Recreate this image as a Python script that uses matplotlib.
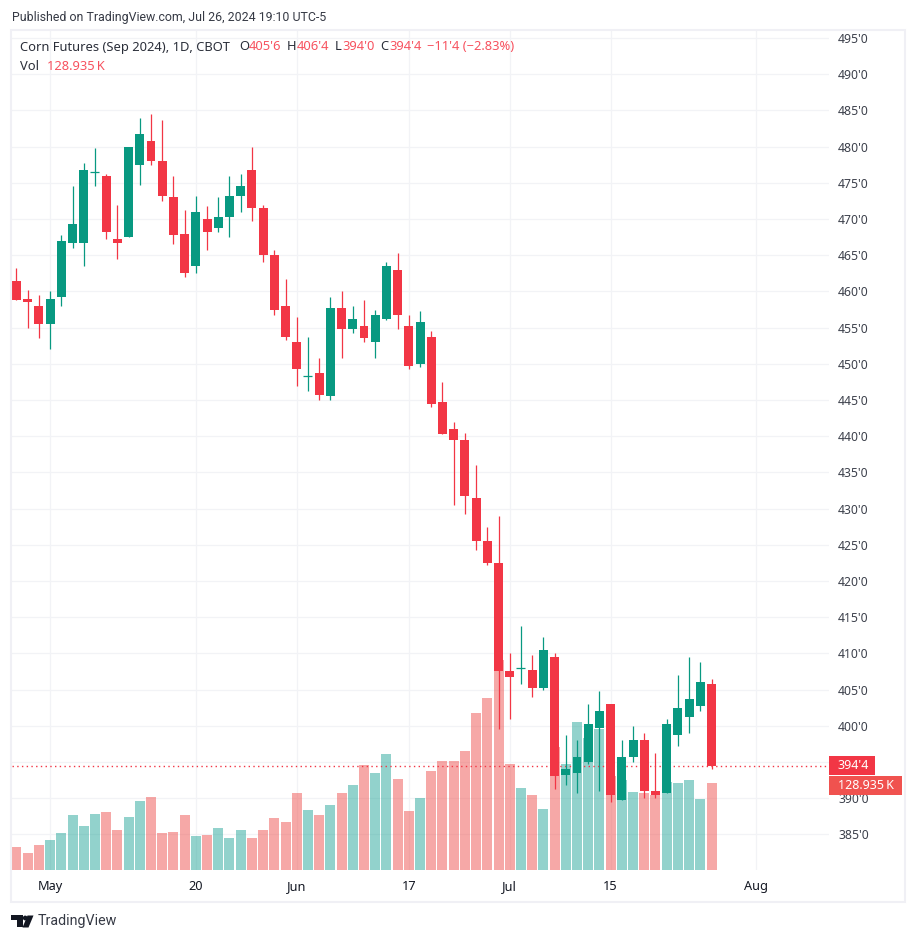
import matplotlib
matplotlib.use("Agg")
import numpy as np
import matplotlib.pyplot as plt
from matplotlib.patches import Rectangle, Polygon, Circle
from matplotlib.transforms import Affine2D

# daily bars, Apr 26 - Jul 26 2024
opens = [461.5, 459, 458, 455.5, 459.25, 466.75, 466.75, 476.5, 476, 467.25,
         467.5, 477.5, 480.75, 478, 473, 468, 463.5, 470, 468.75, 470.25,
         473.25, 476.75, 471.5, 465, 458, 453, 448.25, 448.75, 445.5, 457.75,
         454.75, 455.25, 453, 456.25, 463, 455.25, 450, 453.75, 444.75, 441,
         439.5, 431.5, 425.5, 422.5, 407.5, 408, 407.75, 405.25, 409.5, 393.25,
         393.5, 395, 399.75, 403, 389.75, 395.75, 398, 391, 390.75, 398.75,
         401.25, 402.75, 405.75]
highs = [463.25, 460.25, 459.5, 460, 467.75, 474.5, 477.75, 479.75, 476.25, 472,
         480, 484, 484.5, 483.75, 476, 471.25, 473.25, 471.75, 473, 476,
         476.25, 480, 472, 465.75, 461.75, 456.5, 453.75, 450.75, 459.25, 460,
         458, 458.75, 457.5, 464, 465.25, 456.75, 457.25, 454.5, 447.5, 442,
         440.5, 436, 427.5, 429, 410, 413.75, 409.75, 412.25, 410, 398.75,
         398, 403, 404.75, 403, 398, 400, 399, 396.25, 401, 407,
         409.5, 408.75, 406.5]
lows = [458.75, 455, 453.5, 452, 458, 466, 463.5, 474.5, 467.25, 464.5,
        467.5, 474.75, 477.5, 472.5, 466.5, 462, 462.5, 465.75, 468.25, 467.5,
        471, 469.75, 464, 456.75, 453.25, 447, 446.25, 445, 445, 450.75,
        454.25, 453, 450.75, 456, 454.75, 449.25, 449.5, 444, 440.25, 430.5,
        429.25, 424.25, 422.25, 399.5, 401, 405.75, 404, 405, 391.25, 391.75,
        390.75, 394.75, 391, 389.5, 389.75, 395, 390, 390, 390.75, 397.25,
        399, 402, 394]
closes = [458.75, 458.5, 455.5, 459, 467, 469.25, 476.75, 476.5, 468.25, 466.75,
          480, 481.75, 478, 473.25, 467.75, 462.5, 471, 468.25, 470.25, 473.25,
          474.5, 471.5, 465, 457.5, 453.75, 449.25, 448.25, 445.75, 457.75, 454.75,
          456.25, 453.5, 456.75, 463.5, 456.75, 449.75, 455.75, 444.5, 440.25, 439.5,
          431.75, 425.5, 422.5, 407.5, 406.75, 408, 405.25, 410.5, 393, 394,
          395.75, 400.25, 402, 390.5, 395.75, 398, 391, 390.5, 400.25, 402.5,
          403.75, 406, 394.5]
# thousands of contracts
volumes = [34.1, 25.2, 37.1, 44.5, 54.8, 81.5, 65.2, 83.0, 86.0, 59.3,
           78.5, 102.3, 108.2, 54.8, 56.3, 81.5, 50.4, 51.9, 62.2, 47.4,
           59.3, 47.4, 59.3, 77.1, 71.1, 114.1, 88.9, 81.5, 96.3, 114.1,
           126.0, 155.6, 143.8, 171.9, 134.9, 87.4, 106.7, 146.7, 161.5, 161.5,
           176.4, 232.7, 254.9, 311.2, 157.1, 121.5, 111.2, 90.4, 182.3, 157.1,
           219.3, 195.6, 209.0, 139.3, 133.4, 115.6, 114.1, 111.2, 130.4, 128.9,
           133.4, 105.2, 128.935]

time_ticks = [3, 16, 25, 35, 44, 53, 66]
time_labels = ["May", "20", "Jun", "17", "Jul", "15", "Aug"]
month_labels = ["May", "Jun", "Jul", "Aug"]
price_ticks = list(range(385, 500, 5))
# 395'0 sits behind the last price badge in the picture
price_labels = ["" if p == 395 else "%d'0" % p for p in price_ticks]

UP = "#089981"
DOWN = "#F23645"
VOL_UP = "#26A69A"
VOL_DOWN = "#EF5350"
TEXT_RED = "#F7525F"
GRID = "#F2F3F6"
FRAME = "#F0F0F5"
INK = "#2A2E39"
W, H = 916, 941

plt.rcParams["font.family"] = ["Noto Sans", "DejaVu Sans"]

fig = plt.figure(figsize=(W / 100, H / 100), dpi=100, facecolor="white")
px = Affine2D().scale(1 / W, -1 / H).translate(0, 1) + fig.transFigure

ax = fig.add_axes([12 / W, (H - 870) / H, 817 / W, 839 / H])
ax.set_xlim(-0.401, 72.48)
ax.set_ylim(380.07, 495.98)
for s in ax.spines.values():
    s.set_visible(False)

x = np.arange(len(opens))
opens = np.array(opens)
closes = np.array(closes)
up = closes >= opens
colors = [UP if u else DOWN for u in up]
vol_colors = [VOL_UP if u else VOL_DOWN for u in up]

# volume pane sits on the bottom of the price pane, 1243 K is the full height
ax.bar(x, np.array(volumes) / 1243.4, width=0.89, color=vol_colors, alpha=0.5,
       transform=ax.get_xaxis_transform(), zorder=2)

ax.vlines(x, lows, highs, colors=colors, linewidth=0.9, zorder=4)
ax.bar(x, np.abs(closes - opens), bottom=np.minimum(opens, closes), width=0.8,
       color=colors, zorder=5)
dojis = opens == closes
ax.hlines(opens[dojis], x[dojis] - 0.4, x[dojis] + 0.4, colors=UP, linewidth=0.9, zorder=5)

ax.axhline(closes[-1], color=DOWN, linewidth=1.0, linestyle=(0, (1, 2.4)), zorder=3)

ax.set_axisbelow(True)
ax.grid(True, color=GRID, linewidth=0.9)
ax.yaxis.tick_right()
ax.set_yticks(price_ticks)
ax.set_yticklabels(price_labels, fontsize=8.8, color="#3D414C")
ax.set_xticks(time_ticks)
ax.set_xticklabels(time_labels, fontsize=9.2, color="#131722")
for t in ax.get_xticklabels():
    if t.get_text() in month_labels:
        t.set_fontweight("semibold")
ax.tick_params(axis="both", length=0)
ax.tick_params(axis="y", pad=6.5)
ax.tick_params(axis="x", pad=7.5)


def label(xp, yp, s, color=INK, size=9.3, **kw):
    fig.text(xp, yp, s, transform=px, color=color, fontsize=size, va="center", ha="left", zorder=10, **kw)


fig.add_artist(Rectangle((11, 30), 894, 872, transform=px, fill=False, edgecolor=FRAME, linewidth=1.5))

label(12, 17, "Published on TradingView.com, Jul 26, 2024 19:10 UTC-5", color="#363A45", size=8.95, family="Roboto")
label(20, 47, "Corn Futures (Sep 2024), 1D, CBOT")
label(239, 47, "O")
label(249, 47, "405'6", color=TEXT_RED)
label(287, 47, "H")
label(297, 47, "406'4", color=TEXT_RED)
label(335, 47, "L")
label(342, 47, "394'0", color=TEXT_RED)
label(380, 47, "C")
label(389, 47, "394'4", color=TEXT_RED)
label(427, 47, "\u221211'4 (\u22122.83%)", color=TEXT_RED)
label(20, 66, "Vol")
label(47, 66, "128.935\u2009K", color=TEXT_RED)

# last value badges on the price scale
fig.add_artist(Rectangle((829, 756), 46, 19, transform=px, facecolor=DOWN, edgecolor="none", zorder=8))
label(838, 765.5, "394'4", color="white", size=9, fontweight="medium")
fig.add_artist(Rectangle((829, 776), 73, 19, transform=px, facecolor="#F0524F", edgecolor="none", zorder=8))
label(838, 785.5, "128.935\u2009K", color="white", size=9, fontweight="medium")

# logo and wordmark
logo = "#131722"
fig.add_artist(Polygon([(11, 915.5), (22.5, 915.5), (22.5, 927.5), (16.5, 927.5), (16.5, 920.5), (11, 920.5)],
                       transform=px, facecolor=logo, edgecolor="none"))
fig.add_artist(Circle((25.2, 918), 2.4, transform=px, facecolor=logo, edgecolor="none"))
fig.add_artist(Polygon([(27.5, 915.5), (33.5, 915.5), (28.5, 927.5), (22.5, 927.5)],
                       transform=px, facecolor=logo, edgecolor="none"))
label(38, 921.5, "TradingView", color="#363A45", size=10.3, family="Roboto")

fig.savefig("out.png", dpi=100, facecolor="white")
